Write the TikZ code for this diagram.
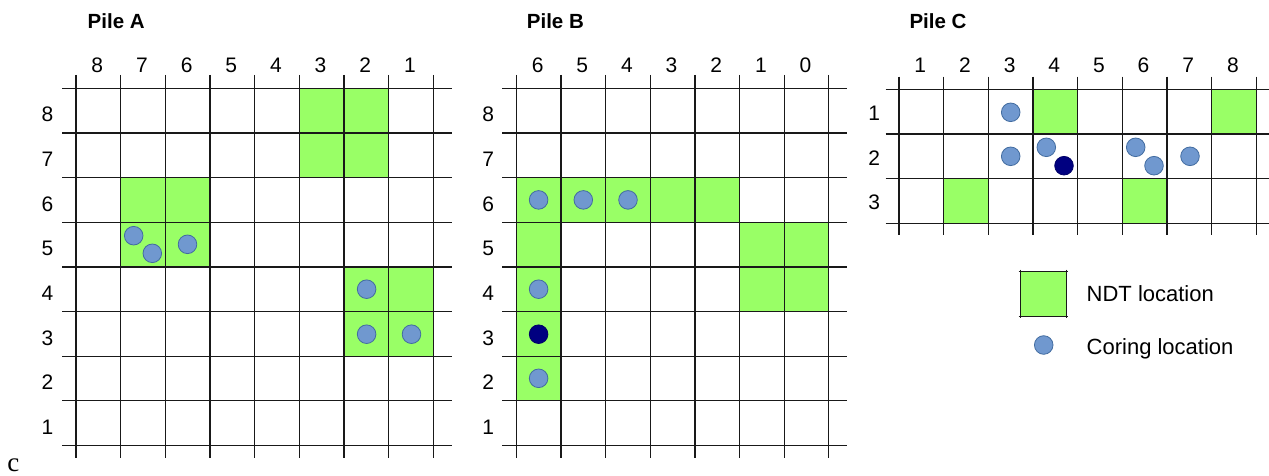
\documentclass[tikz,border=0pt]{standalone}
\usepackage{fontspec}
\setmainfont{Liberation Sans}
\newfontfamily\serifc{Liberation Serif}
\definecolor{ndt}{RGB}{153,255,102}
\definecolor{coreb}{RGB}{112,152,207}
\definecolor{coreedge}{RGB}{66,108,160}
\definecolor{darkcore}{RGB}{0,0,128}
\definecolor{gridc}{RGB}{25,25,25}
\begin{document}
\begin{tikzpicture}[x=1pt,y=-1pt,
  gridline/.style={line width=1.25pt, draw=gridc},
  numlab/.style={inner sep=0pt, font=\fontsize{21}{25}\selectfont},
  titlelab/.style={inner sep=0pt, anchor=base west, font=\fontsize{20.5}{24}\selectfont\bfseries},
  leglab/.style={inner sep=0pt, anchor=base west, font=\fontsize{22}{26}\selectfont},
  core/.style={circle, inner sep=0pt, minimum size=18.6pt, fill=coreb, draw=coreedge, line width=0.8pt},
  darkdot/.style={circle, inner sep=0pt, minimum size=18.6pt, fill=darkcore, draw=darkcore!80!black, line width=0.8pt},
  cell/.style={fill=ndt}]
\useasboundingbox (0,0) rectangle (1269,476);
\fill[white] (0,0) rectangle (1269,476);

% ---------------- Pile A ----------------
\def\ax{76}\def\ay{88.3}\def\d{44.65}
\foreach \i/\j in {5/0,6/0,5/1,6/1,1/2,2/2,1/3,2/3,6/4,7/4,6/5,7/5}
  \fill[cell] (\ax+\i*\d, \ay+\j*\d) rectangle ++(\d,\d);
\foreach \i in {0,...,8} \draw[gridline] (\ax+\i*\d, 75) -- (\ax+\i*\d, 458);
\foreach \j in {0,...,8} \draw[gridline] (62, \ay+\j*\d) -- (452, \ay+\j*\d);
\foreach \lab [count=\i from 0] in {8,7,6,5,4,3,2,1}
  \node[numlab] (Acol\i) at (\ax+\i*\d+0.5*\d-1, 65) {\lab};
\foreach \lab [count=\j from 0] in {8,7,6,5,4,3,2,1}
  \node[numlab] (Arow\j) at (47.5, \ay+\j*\d+0.5*\d+4) {\lab};
\node[titlelab] (titleA) at (87.5,28.4) {Pile A};
\node[core] (Ac1) at (133.7,235.7) {};
\node[core] (Ac2) at (152.3,253.3) {};
\node[core] (Ac3) at (187.5,244.3) {};
\node[core] (Ac4) at (366.6,289.2) {};
\node[core] (Ac5) at (366.6,334.2) {};
\node[core] (Ac6) at (411.5,334.2) {};

% ---------------- Pile B ----------------
\def\bx{516.3}
\foreach \i/\j in {0/2,1/2,2/2,3/2,4/2,0/3,0/4,0/5,0/6,5/3,6/3,5/4,6/4}
  \fill[cell] (\bx+\i*\d, \ay+\j*\d) rectangle ++(\d,\d);
\foreach \i in {0,...,7} \draw[gridline] (\bx+\i*\d, 75) -- (\bx+\i*\d, 458);
\foreach \j in {0,...,8} \draw[gridline] (502, \ay+\j*\d) -- (847, \ay+\j*\d);
\foreach \lab [count=\i from 0] in {6,5,4,3,2,1,0}
  \node[numlab] (Bcol\i) at (\bx+\i*\d+0.5*\d-1, 65) {\lab};
\foreach \lab [count=\j from 0] in {8,7,6,5,4,3,2,1}
  \node[numlab] (Brow\j) at (488.3, \ay+\j*\d+0.5*\d+4) {\lab};
\node[titlelab] (titleB) at (526.7,28.4) {Pile B};
\node[core] (Bc1) at (538.6,199.9) {};
\node[core] (Bc2) at (583.3,199.9) {};
\node[core] (Bc3) at (628.0,199.9) {};
\node[core] (Bc4) at (538.6,289.2) {};
\node[darkdot] (Bc5) at (538.6,334.2) {};
\node[core] (Bc6) at (538.6,378.3) {};

% ---------------- Pile C ----------------
\def\cx{899}\def\cy{89.3}
\foreach \i/\j in {3/0,7/0,1/2,5/2}
  \fill[cell] (\cx+\i*\d, \cy+\j*\d) rectangle ++(\d,\d);
\foreach \i in {0,...,8} \draw[gridline] (\cx+\i*\d, 76.7) -- (\cx+\i*\d, 235);
\foreach \j in {0,...,3} \draw[gridline] (885.7, \cy+\j*\d) -- (1269, \cy+\j*\d);
\foreach \lab [count=\i from 0] in {1,2,3,4,5,6,7,8}
  \node[numlab] (Ccol\i) at (\cx+\i*\d+0.5*\d-1, 65) {\lab};
\foreach \lab [count=\j from 0] in {1,2,3}
  \node[numlab] (Crow\j) at (874.3, \cy+\j*\d+0.5*\d+1.5) {\lab};
\node[titlelab] (titleC) at (909.3,28.4) {Pile C};
\node[core] (Cc1) at (1010.7,112.3) {};
\node[core] (Cc2) at (1010.7,156.3) {};
\node[core] (Cc3) at (1046.3,147.3) {};
\node[darkdot] (Cc4) at (1064.0,165.7) {};
\node[core] (Cc5) at (1135.7,147.3) {};
\node[core] (Cc6) at (1154.0,165.7) {};
\node[core] (Cc7) at (1190.0,156.3) {};

% ---------------- Legend ----------------
\node[fill=ndt, inner sep=0pt, minimum width=45.7pt, minimum height=44.7pt] (legsq) at (1043.2,293.7) {};
\draw[line width=1.2pt, draw=gridc, shorten <=-1.5pt, shorten >=-1.5pt] (legsq.north west) -- (legsq.north east);
\draw[line width=1.2pt, draw=gridc, shorten <=-1.5pt, shorten >=-1.5pt] (legsq.south west) -- (legsq.south east);
\draw[line width=1.2pt, draw=gridc, shorten <=-1.5pt, shorten >=-1.5pt] (legsq.north west) -- (legsq.south west);
\draw[line width=1.2pt, draw=gridc, shorten <=-1.5pt, shorten >=-1.5pt] (legsq.north east) -- (legsq.south east);
\node[leglab] (legndt) at (1086.5,301.8) {NDT location};
\node[core] (legdot) at (1043.7,345) {};
\node[leglab] (legcore) at (1086.5,354) {Coring location};

% ---------------- corner letter ----------------
\node[inner sep=0pt, anchor=base, font=\serifc\fontsize{27}{30}\selectfont] (letterc) at (13.3,471) {c};
\end{tikzpicture}
\end{document}
